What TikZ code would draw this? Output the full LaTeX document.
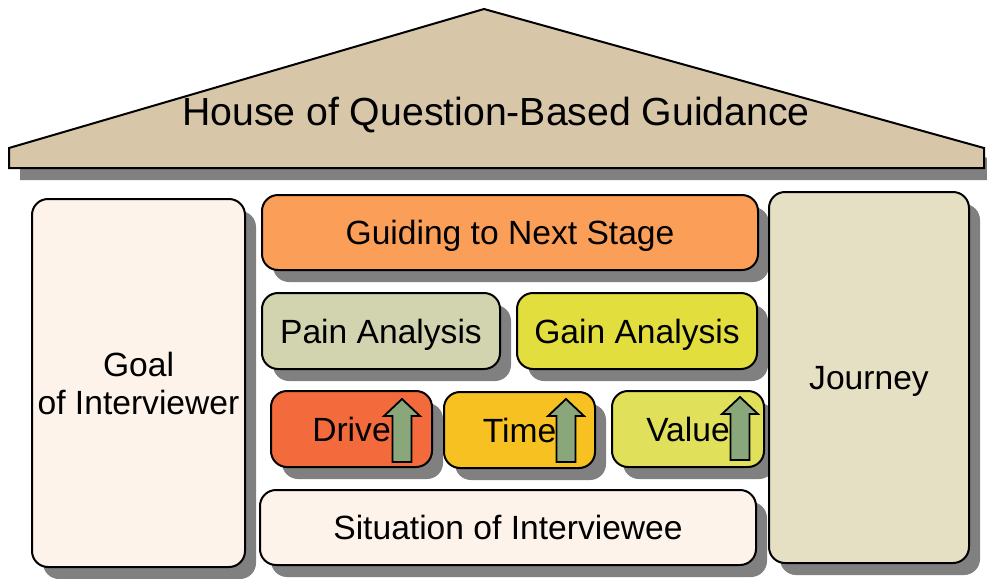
\documentclass[tikz,border=0pt]{standalone}
\usepackage{fontspec}
\setmainfont{Liberation Sans}
\usetikzlibrary{shadows}
\definecolor{roofc}{HTML}{D8C6A9}
\definecolor{shadowc}{HTML}{808080}
\definecolor{paleC}{HTML}{FEF3EB}
\definecolor{journeyC}{HTML}{E5DFC3}
\definecolor{guideC}{HTML}{FB9F58}
\definecolor{painC}{HTML}{D2D4B0}
\definecolor{gainC}{HTML}{E2DE3E}
\definecolor{driveC}{HTML}{F36A3D}
\definecolor{timeC}{HTML}{F7C221}
\definecolor{valueC}{HTML}{E0E05A}
\definecolor{arrowC}{HTML}{8AA67B}
\begin{document}
\begin{tikzpicture}[x=0.5pt,y=-0.5pt,
  shad/.style={drop shadow={shadow xshift=5.5pt, shadow yshift=-6pt, fill=shadowc, opacity=1}},
  box/.style={draw=black, line width=1pt, rounded corners=8pt, inner sep=0pt, shad,
    font=\fontsize{16.8}{19}\selectfont, text height=12pt, text depth=0pt},
  tallbox/.style={box, text height=, text depth=, align=center},
  roofst/.style={draw=black, line width=1pt, fill=roofc, shad},
  arrowst/.style={draw=black, line width=0.9pt, fill=arrowC, line join=miter},
  uparrow/.pic={\draw[arrowst] (0,0) -- (18,17) -- (9.5,17) -- (9.5,63) -- (-9.5,63) -- (-9.5,17) -- (-18,17) -- cycle;}
]
\useasboundingbox (0,0) rectangle (987,579);

% roof
\path[roofst] (9,168) -- (9,148) -- (484,9) -- (984,148) -- (984,168) -- cycle;
\node[font=\fontsize{19.6}{23}\selectfont, text height=14pt, text depth=0pt, inner sep=0pt] (title) at (496,111.5) {House of Question-Based Guidance};

% pillars
\node[tallbox, fill=paleC, minimum width=106.5pt, minimum height=184pt] (goal) at (138.5,383) {Goal\\of Interviewer};

% middle blocks
\node[box, fill=guideC, minimum width=248pt, minimum height=37.5pt] (guide) at (510,232.5) {Guiding to Next Stage};
\node[box, fill=painC, minimum width=119pt, minimum height=38pt] (pain) at (381,331) {Pain Analysis};
\node[box, fill=gainC, minimum width=120pt, minimum height=38pt] (gain) at (637,331) {Gain Analysis};
\node[box, fill=driveC, minimum width=80.5pt, minimum height=38pt] (drive) at (351.5,429) {Drive};
\node[box, fill=timeC, minimum width=75.5pt, minimum height=38pt] (time) at (519.5,430) {Time};
\node[box, fill=valueC, minimum width=76pt, minimum height=38pt] (value) at (688,429) {Value};
\node[box, fill=paleC, minimum width=248pt, minimum height=37.5pt] (situation) at (508,527.5) {Situation of Interviewee};

\node[box, fill=journeyC, minimum width=100pt, minimum height=185.5pt] (journey) at (869,377.5) {Journey};

% up arrows
\pic at (402,399) {uparrow};
\pic at (566,399) {uparrow};
\pic at (740,397) {uparrow};
\end{tikzpicture}
\end{document}
